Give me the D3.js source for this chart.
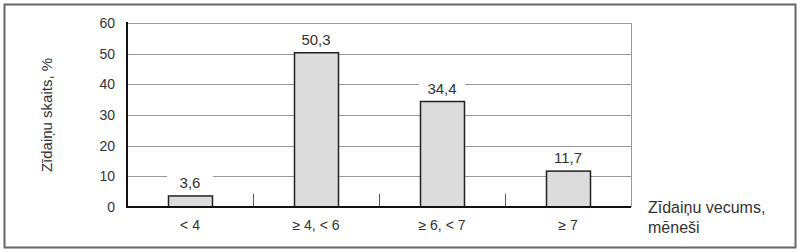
<!DOCTYPE html>
<html>
<head>
<meta charset="utf-8">
<script src="https://cdn.jsdelivr.net/npm/d3@7"></script>
<style>
  body { margin: 0; background: #fff; }
  svg text { font-family: "Liberation Sans", Arial, sans-serif; fill: #333; }
</style>
</head>
<body>
<div id="chart"></div>
<script>
// vecuma grupas un zīdaiņu skaits, %
var categories = ["< 4", "≥ 4, < 6", "≥ 6, < 7", "≥ 7"];
var values = [3.6, 50.3, 34.4, 11.7];
var valueLabels = ["3,6", "50,3", "34,4", "11,7"];
var yTicks = [0, 10, 20, 30, 40, 50, 60];

var W = 800, H = 252;
var margin = { top: 23, left: 127, right: 169, bottom: 45 },
    width = W - margin.left - margin.right,
    height = H - margin.top - margin.bottom;

var svg = d3.select("#chart")
    .append("svg")
    .attr("width", W)
    .attr("height", H);

// outer frame
svg.append("rect")
    .attr("x", 4.5).attr("y", 4.5)
    .attr("width", 791).attr("height", 243)
    .attr("fill", "none")
    .attr("stroke", "#666")
    .attr("stroke-width", 2);

var g = svg.append("g")
    .attr("transform", "translate(" + margin.left + "," + margin.top + ")");

var x = d3.scaleBand()
    .domain(categories)
    .range([0, width]);

var y = d3.scaleLinear()
    .domain([0, 60])
    .range([height, 0]);

// grid lines
g.selectAll(".grid")
    .data(yTicks.slice(1))
    .enter().append("line")
    .attr("class", "grid")
    .attr("x1", 0).attr("x2", width)
    .attr("y1", function(d) { return Math.round(y(d)) + 0.5; })
    .attr("y2", function(d) { return Math.round(y(d)) + 0.5; })
    .attr("stroke", "#999")
    .attr("stroke-width", 1);

// right border of plot
g.append("line")
    .attr("x1", width + 0.5).attr("x2", width + 0.5)
    .attr("y1", 0).attr("y2", height)
    .attr("stroke", "#999");

// category separator ticks
g.selectAll(".sep")
    .data(categories.slice(1))
    .enter().append("line")
    .attr("class", "sep")
    .attr("x1", function(d) { return Math.round(x(d)) + 0.5; })
    .attr("x2", function(d) { return Math.round(x(d)) + 0.5; })
    .attr("y1", height - 13).attr("y2", height)
    .attr("stroke", "#555");

var barW = 44;

// bars
g.selectAll(".bar")
    .data(values)
    .enter().append("rect")
    .attr("class", "bar")
    .attr("x", function(d, i) { return Math.round(x(categories[i]) + x.bandwidth() / 2 - barW / 2) + 0.5; })
    .attr("y", function(d) { return y(d); })
    .attr("width", barW)
    .attr("height", function(d) { return height - y(d); })
    .attr("fill", "#dcdcdc")
    .attr("stroke", "#222")
    .attr("stroke-width", 1.5);

// value labels with white background
var lab = g.selectAll(".val")
    .data(values)
    .enter().append("g")
    .attr("class", "val")
    .attr("transform", function(d, i) {
        return "translate(" + (x(categories[i]) + x.bandwidth() / 2) + "," + (y(d) - 8) + ")";
    });

lab.append("rect")
    .attr("x", -23).attr("y", -16)
    .attr("width", 46).attr("height", 18)
    .attr("fill", "#fff");

lab.append("text")
    .attr("text-anchor", "middle")
    .attr("font-size", 15)
    .text(function(d, i) { return valueLabels[i]; });

// y tick labels
g.selectAll(".ytick")
    .data(yTicks)
    .enter().append("text")
    .attr("class", "ytick")
    .attr("x", -12)
    .attr("y", function(d) { return y(d); })
    .attr("dy", "0.35em")
    .attr("text-anchor", "end")
    .attr("font-size", 14)
    .text(function(d) { return d; });

// x labels
g.selectAll(".xlab")
    .data(categories)
    .enter().append("text")
    .attr("class", "xlab")
    .attr("x", function(d) { return x(d) + x.bandwidth() / 2; })
    .attr("y", height + 23)
    .attr("text-anchor", "middle")
    .attr("font-size", 14)
    .text(function(d) { return d; });

// axes
g.append("line")
    .attr("x1", 0).attr("x2", 0)
    .attr("y1", -1).attr("y2", height + 1)
    .attr("stroke", "#111").attr("stroke-width", 2);
g.append("line")
    .attr("x1", -1).attr("x2", width)
    .attr("y1", height).attr("y2", height)
    .attr("stroke", "#111").attr("stroke-width", 2);

// axis titles
svg.append("text")
    .attr("transform", "translate(52," + (margin.top + height / 2) + ") rotate(-90)")
    .attr("text-anchor", "middle")
    .attr("font-size", 15)
    .text("Zīdaiņu skaits, %");

var xt = svg.append("text")
    .attr("x", 648)
    .attr("y", 213)
    .attr("font-size", 16);
xt.append("tspan").attr("x", 648).text("Zīdaiņu vecums,");
xt.append("tspan").attr("x", 648).attr("dy", 20).text("mēneši");
</script>
</body>
</html>
